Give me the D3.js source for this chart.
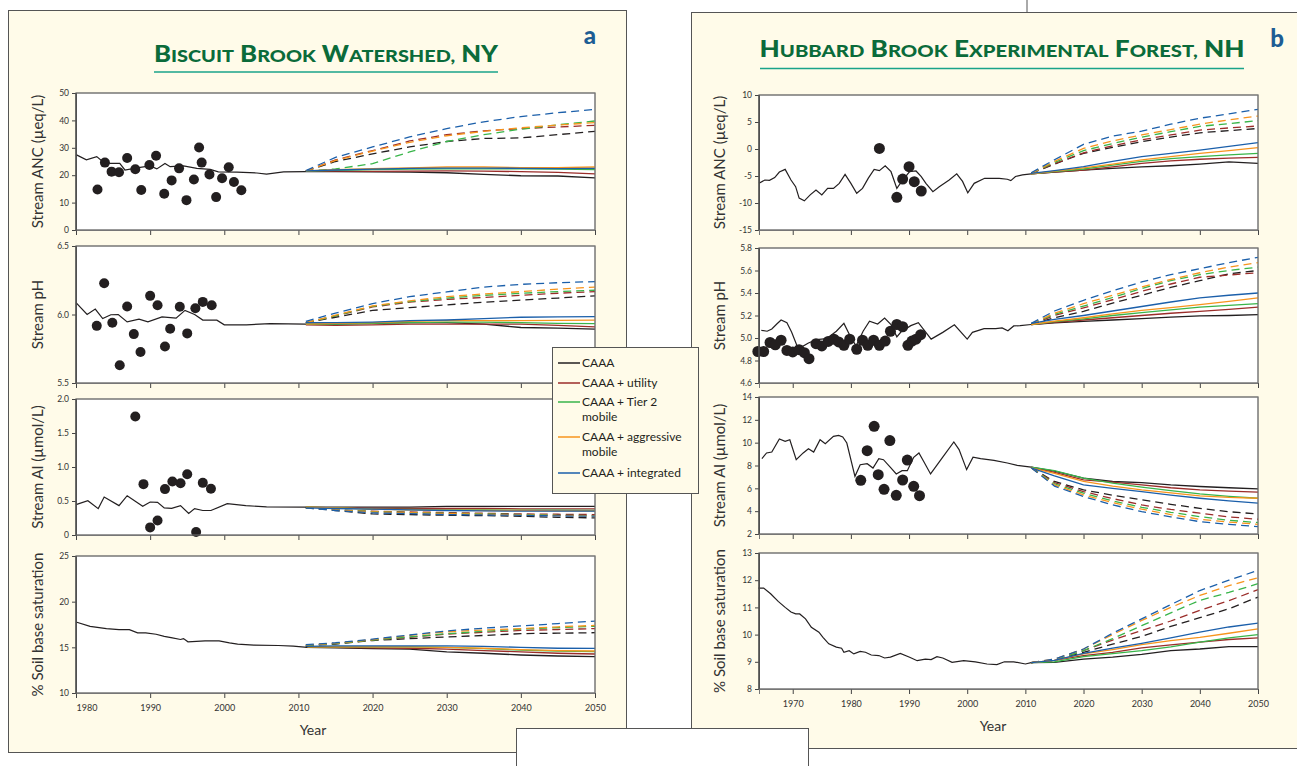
<!DOCTYPE html>
<html>
<head>
<meta charset="utf-8">
<script src="https://cdn.jsdelivr.net/npm/d3@7"></script>
<style>
  body { margin: 0; background: #fff; }
  svg { display: block; font-family: Lato, "Open Sans", sans-serif; }
</style>
</head>
<body>
<script>
// ---- data ----
var scenarios = ["CAAA", "CAAA + utility", "CAAA + Tier 2 mobile", "CAAA + aggressive mobile", "CAAA + integrated"];
var scenarioColors = ["#231f20", "#9b2d2a", "#39b54a", "#f7941d", "#1b5faa"];
var projYears = [2011, 2015, 2020, 2025, 2030, 2035, 2040, 2045, 2050];

var bbYearTicks = [1980, 1990, 2000, 2010, 2020, 2030, 2040, 2050];
var hbYearTicks = [1970, 1980, 1990, 2000, 2010, 2020, 2030, 2040, 2050];

// Biscuit Brook: ANC
var bbAncTicks = [0, 10, 20, 30, 40, 50];
var bbAncObs = [[1982.9,14.8],[1983.9,24.6],[1984.8,21.3],[1985.8,21.1],[1986.9,26.3],[1988.0,22.2],[1988.8,14.6],[1989.9,23.7],[1990.8,27.1],[1991.9,13.2],[1992.9,18.1],[1993.9,22.5],[1994.9,10.9],[1995.9,18.4],[1996.6,30.1],[1996.95,24.6],[1998.0,20.3],[1998.9,12.0],[1999.7,18.9],[2000.6,22.9],[2001.3,17.5],[2002.3,14.5]];
var bbAncHist = [[1980,27.5],[1981.4,25.6],[1982.8,26.8],[1983.5,25.2],[1984.6,24.3],[1985.9,24.3],[1986.6,21.9],[1988.2,22.7],[1990,23.4],[1990.9,22.3],[1992,24.3],[1992.7,23.1],[1994.5,23.4],[1996.3,22.5],[1998.1,22.1],[1999.2,21.2],[2001.7,21.1],[2004.4,20.8],[2005.7,20.4],[2008,21.2],[2011,21.3]];
var bbAncSolid = [
  [21.3, 21.3, 21.2, 21.1, 20.9, 20.3, 19.8, 19.7, 19.0],
  [21.4, 21.5, 21.4, 21.5, 21.6, 21.5, 21.3, 21.0, 20.5],
  [21.5, 21.8, 22.0, 22.2, 22.3, 22.3, 22.3, 22.2, 22.0],
  [21.6, 22.0, 22.4, 22.7, 23.0, 23.0, 22.8, 22.8, 23.0],
  [21.6, 21.9, 22.2, 22.5, 22.6, 22.6, 22.5, 22.4, 22.5]];
var bbAncDashed = [
  [21.5, 25.0, 27.8, 30.3, 32.3, 33.4, 33.6, 34.8, 36.0],
  [21.5, 25.6, 29.0, 32.5, 34.8, 36.2, 37.0, 37.6, 38.2],
  [21.5, 22.3, 24.2, 28.5, 32.3, 34.8, 36.8, 38.4, 39.8],
  [21.5, 25.4, 28.8, 32.0, 34.4, 36.0, 37.3, 38.3, 39.2],
  [21.7, 26.5, 30.3, 34.0, 37.0, 39.5, 41.4, 42.8, 44.0]];

// Biscuit Brook: pH
var bbPhTicks = [5.5, 6.0, 6.5];
var bbPhObs = [[1982.8,5.917],[1983.8,6.228],[1984.9,5.94],[1985.9,5.63],[1986.9,6.058],[1987.8,5.857],[1988.7,5.726],[1990.0,6.136],[1991.0,6.068],[1992.0,5.767],[1992.7,5.896],[1994.0,6.056],[1995.0,5.862],[1996.1,6.046],[1997.1,6.092],[1998.3,6.068]];
var bbPhHist = [[1980,6.087],[1981.5,6.0],[1982.6,6.04],[1983.6,5.97],[1984.7,5.998],[1985.7,6.0],[1986.9,5.946],[1988.5,5.966],[1989.7,5.946],[1991.6,5.983],[1993.5,5.973],[1994.7,6.03],[1996.0,6.0],[1997.1,5.959],[1999.0,5.959],[2000,5.925],[2003,5.925],[2006.2,5.934],[2011,5.93]];
var bbPhSolid = [
  [5.93, 5.93, 5.935, 5.94, 5.94, 5.93, 5.905, 5.90, 5.893],
  [5.925, 5.92, 5.925, 5.93, 5.93, 5.93, 5.93, 5.92, 5.91],
  [5.93, 5.93, 5.935, 5.94, 5.945, 5.945, 5.94, 5.935, 5.934],
  [5.93, 5.935, 5.94, 5.95, 5.955, 5.955, 5.955, 5.957, 5.959],
  [5.94, 5.94, 5.945, 5.955, 5.96, 5.97, 5.98, 5.983, 5.985]];
var bbPhDashed = [
  [5.94, 5.98, 6.03, 6.05, 6.07, 6.09, 6.105, 6.12, 6.136],
  [5.94, 5.99, 6.055, 6.09, 6.11, 6.125, 6.14, 6.155, 6.167],
  [5.94, 5.99, 6.06, 6.095, 6.12, 6.14, 6.155, 6.167, 6.177],
  [5.94, 5.995, 6.063, 6.1, 6.13, 6.15, 6.167, 6.185, 6.20],
  [5.95, 6.01, 6.08, 6.13, 6.165, 6.2, 6.22, 6.232, 6.24]];

// Biscuit Brook: Al
var bbAlTicks = [0, 0.5, 1.0, 1.5, 2.0];
var bbAlObs = [[1988.0,1.743],[1989.1,0.748],[1990.0,0.112],[1991.0,0.214],[1992.0,0.675],[1993.0,0.786],[1994.1,0.762],[1995.0,0.893],[1996.2,0.044],[1997.1,0.767],[1998.2,0.68]];
var bbAlHist = [[1980,0.447],[1981.6,0.505],[1983,0.388],[1983.8,0.558],[1985.8,0.432],[1986.9,0.578],[1989.0,0.422],[1990,0.485],[1991,0.48],[1991.9,0.398],[1992.9,0.393],[1994.1,0.432],[1995.2,0.316],[1996,0.388],[1997.1,0.36],[1998.2,0.36],[2000.4,0.461],[2002.9,0.432],[2005.7,0.413],[2011,0.41]];
var bbAlSolid = [
  [0.41, 0.41, 0.41, 0.41, 0.42, 0.42, 0.42, 0.42, 0.42],
  [0.41, 0.40, 0.39, 0.39, 0.39, 0.39, 0.385, 0.385, 0.383],
  [0.41, 0.40, 0.38, 0.375, 0.37, 0.37, 0.365, 0.365, 0.36],
  [0.41, 0.40, 0.38, 0.37, 0.365, 0.36, 0.36, 0.355, 0.355],
  [0.40, 0.39, 0.38, 0.37, 0.36, 0.355, 0.35, 0.35, 0.35]];
var bbAlDashed = [
  [0.40, 0.36, 0.31, 0.30, 0.29, 0.285, 0.275, 0.26, 0.252],
  [0.40, 0.37, 0.35, 0.34, 0.33, 0.32, 0.31, 0.305, 0.30],
  [0.40, 0.37, 0.345, 0.33, 0.32, 0.31, 0.30, 0.29, 0.285],
  [0.40, 0.37, 0.34, 0.33, 0.315, 0.305, 0.295, 0.285, 0.28],
  [0.40, 0.36, 0.325, 0.315, 0.30, 0.295, 0.29, 0.28, 0.277]];

// Biscuit Brook: soil base saturation
var bbSoilTicks = [10, 15, 20, 25];
var bbSoilHist = [[1980,17.77],[1981.9,17.3],[1984.1,17.05],[1985.8,16.94],[1987.2,16.94],[1988.3,16.58],[1989.4,16.58],[1990.8,16.43],[1991.9,16.2],[1993,16.04],[1994.1,15.86],[1994.5,15.96],[1995.1,15.6],[1997.4,15.71],[1999.3,15.71],[2000.7,15.49],[2001.8,15.35],[2004,15.24],[2007.3,15.2],[2009.3,15.13],[2011.2,14.99]];
var bbSoilSolid = [
  [15.0, 14.95, 14.85, 14.8, 14.5, 14.35, 14.16, 14.05, 13.98],
  [15.0, 15.0, 14.95, 14.9, 14.8, 14.65, 14.5, 14.35, 14.27],
  [15.05, 15.05, 15.05, 15.05, 15.0, 14.85, 14.7, 14.6, 14.52],
  [15.05, 15.05, 15.05, 15.05, 15.0, 14.9, 14.75, 14.65, 14.6],
  [15.1, 15.15, 15.15, 15.15, 15.17, 15.1, 15.0, 14.9, 14.88]];
var bbSoilDashed = [
  [15.2, 15.35, 15.75, 15.95, 16.14, 16.3, 16.5, 16.55, 16.6],
  [15.2, 15.4, 15.8, 16.1, 16.45, 16.65, 16.85, 16.95, 17.05],
  [15.2, 15.4, 15.8, 16.15, 16.5, 16.75, 17.0, 17.15, 17.3],
  [15.25, 15.45, 15.85, 16.3, 16.7, 16.9, 17.05, 17.25, 17.4],
  [15.3, 15.5, 15.9, 16.35, 16.8, 17.1, 17.34, 17.6, 17.88]];

// Hubbard Brook: ANC
var hbAncTicks = [-15, -10, -5, 0, 5, 10];
var hbAncObs = [[1984.9,0.1],[1987.9,-8.95],[1988.9,-5.56],[1990.0,-3.27],[1990.9,-6.05],[1992.1,-7.78]];
var hbAncHist = [[1964.2,-6.36],[1965.2,-5.74],[1966,-5.8],[1966.9,-5.3],[1967.7,-4.26],[1968.7,-3.77],[1969.7,-5.74],[1970.5,-6.98],[1971.1,-9.1],[1972,-9.6],[1973,-8.5],[1974,-7.6],[1975,-8.5],[1976,-7.3],[1977,-7.3],[1978,-6.36],[1979,-4.7],[1980,-6.36],[1981,-8.2],[1982,-7.3],[1983,-5.4],[1984,-3.77],[1984.9,-4.0],[1985.9,-3.1],[1986.9,-4.2],[1987.9,-7.3],[1988.9,-5.74],[1990.1,-4.2],[1991.2,-4.07],[1992.1,-5.1],[1992.9,-6.36],[1994.1,-7.9],[1995.2,-7.0],[1996.9,-5.74],[1998.2,-4.6],[1999.2,-6.0],[2000.1,-8.1],[2001.2,-6.36],[2003,-5.43],[2005.5,-5.43],[2006.9,-5.6],[2007.5,-5.86],[2008.3,-5.1],[2009.5,-4.8],[2011,-4.6]];
var hbAncSolid = [
  [-4.6, -4.3, -3.9, -3.6, -3.3, -3.1, -2.8, -2.4, -2.65],
  [-4.6, -4.3, -3.9, -3.3, -2.65, -2.2, -1.9, -1.7, -1.54],
  [-4.6, -4.2, -3.7, -3.0, -2.3, -1.8, -1.4, -1.1, -0.8],
  [-4.6, -4.1, -3.5, -2.8, -2.0, -1.4, -0.8, -0.3, 0.25],
  [-4.5, -4.0, -3.27, -2.3, -1.42, -0.8, -0.2, 0.5, 1.17]];
var hbAncDashed = [
  [-4.5, -2.8, -0.8, 0.3, 1.36, 2.2, 3.0, 3.4, 3.8],
  [-4.5, -2.7, -0.7, 0.6, 1.7, 2.6, 3.5, 3.9, 4.26],
  [-4.5, -2.5, -0.3, 1.0, 2.2, 3.2, 4.2, 4.7, 5.25],
  [-4.5, -2.3, 0.1, 1.5, 2.6, 3.6, 4.6, 5.4, 6.1],
  [-4.4, -2.0, 0.86, 2.4, 3.3, 4.6, 5.7, 6.5, 7.35]];

// Hubbard Brook: pH
var hbPhTicks = [4.6, 4.8, 5.0, 5.2, 5.4, 5.6, 5.8];
var hbPhObs = [[1964.0,4.88],[1965,4.88],[1966.1,4.96],[1967,4.94],[1968,4.98],[1969,4.89],[1970,4.876],[1971.1,4.896],[1972,4.87],[1972.8,4.816],[1974,4.95],[1975,4.93],[1976.1,4.97],[1977.1,4.99],[1977.9,4.965],[1978.8,4.935],[1979.8,4.99],[1981,4.9],[1982,4.98],[1982.9,4.935],[1983.9,4.98],[1984.9,4.935],[1985.9,4.973],[1986.8,5.06],[1987.9,5.12],[1988.9,5.1],[1989.8,4.935],[1990.5,4.973],[1991.2,4.99],[1992,5.03]];
var hbPhHist = [[1964.6,5.068],[1965.6,5.06],[1966.4,5.08],[1967.3,5.127],[1968,5.16],[1969,5.136],[1969.8,5.053],[1970.7,4.935],[1971.5,4.92],[1972.7,4.956],[1974.1,4.985],[1975.8,4.994],[1977.5,5.06],[1978.8,5.13],[1980.1,4.994],[1980.9,4.93],[1982.1,5.06],[1983.2,5.15],[1984.6,5.124],[1985.8,5.178],[1986.9,5.12],[1987.9,5.01],[1988.6,5.053],[1990.3,5.11],[1991.6,5.136],[1993.8,4.99],[1995.8,5.05],[1997.8,5.117],[2000,4.99],[2000.9,5.05],[2002.9,5.083],[2004.9,5.083],[2006,5.09],[2007,5.065],[2008,5.107],[2009.1,5.11],[2011,5.12]];
var hbPhSolid = [
  [5.12, 5.135, 5.148, 5.16, 5.172, 5.185, 5.196, 5.2, 5.207],
  [5.12, 5.14, 5.16, 5.18, 5.2, 5.22, 5.237, 5.255, 5.275],
  [5.12, 5.145, 5.17, 5.2, 5.225, 5.25, 5.275, 5.29, 5.305],
  [5.12, 5.15, 5.18, 5.215, 5.246, 5.27, 5.296, 5.325, 5.356],
  [5.13, 5.165, 5.2, 5.24, 5.28, 5.32, 5.356, 5.38, 5.40]];
var hbPhDashed = [
  [5.12, 5.18, 5.237, 5.31, 5.38, 5.45, 5.51, 5.57, 5.60],
  [5.12, 5.2, 5.267, 5.34, 5.415, 5.48, 5.54, 5.56, 5.58],
  [5.125, 5.21, 5.284, 5.36, 5.44, 5.51, 5.563, 5.6, 5.63],
  [5.125, 5.22, 5.305, 5.38, 5.453, 5.52, 5.58, 5.63, 5.67],
  [5.13, 5.24, 5.335, 5.42, 5.498, 5.563, 5.616, 5.67, 5.717]];

// Hubbard Brook: Al
var hbAlTicks = [2, 4, 6, 8, 10, 12, 14];
var hbAlObs = [[1984.0,11.43],[1982.8,9.3],[1986.7,10.18],[1989.7,8.48],[1981.7,6.7],[1984.7,7.2],[1985.7,5.91],[1987.8,5.39],[1988.9,6.73],[1990.8,6.18],[1991.8,5.36]];
var hbAlHist = [[1964.7,8.6],[1965.5,9.1],[1966.4,9.18],[1967.7,10.32],[1968.7,10.12],[1969.5,10.26],[1970.6,8.51],[1971.8,9.1],[1972.7,9.47],[1973.6,9.18],[1974.7,10.26],[1975.6,9.91],[1977,10.55],[1977.9,10.64],[1978.6,10.5],[1979.3,9.97],[1980.7,7.05],[1981.6,8.07],[1982.8,8.16],[1983.8,7.78],[1984.8,8.6],[1985.6,8.51],[1986.8,7.84],[1987.8,7.26],[1988.8,7.55],[1989.7,7.55],[1990.8,8.72],[1991.7,9.1],[1992.5,8.37],[1993.7,7.26],[1995.7,8.66],[1997.7,10.06],[1998.6,9.39],[1999.9,7.64],[2001,8.72],[2002.3,8.6],[2004.6,8.45],[2006.9,8.22],[2008.6,8.01],[2011,7.85]];
var hbAlSolid = [
  [7.85, 7.5, 6.9, 6.6, 6.5, 6.3, 6.16, 6.05, 5.95],
  [7.85, 7.4, 6.74, 6.55, 6.3, 6.05, 5.86, 5.75, 5.66],
  [7.85, 7.55, 6.9, 6.45, 6.1, 5.8, 5.51, 5.3, 5.13],
  [7.8, 7.3, 6.6, 6.2, 5.86, 5.6, 5.34, 5.2, 5.13],
  [7.8, 7.1, 6.3, 6.0, 5.72, 5.4, 5.13, 4.9, 4.7]];
var hbAlDashed = [
  [7.8, 6.6, 5.86, 5.4, 4.99, 4.6, 4.25, 3.95, 3.76],
  [7.8, 6.5, 5.72, 5.1, 4.55, 4.15, 3.82, 3.5, 3.29],
  [7.8, 6.4, 5.57, 4.9, 4.34, 3.9, 3.52, 3.2, 3.0],
  [7.8, 6.3, 5.42, 4.75, 4.17, 3.7, 3.29, 3.05, 2.85],
  [7.8, 6.2, 5.28, 4.55, 3.96, 3.5, 3.08, 2.85, 2.64]];

// Hubbard Brook: soil base saturation
var hbSoilTicks = [8, 9, 10, 11, 12, 13];
var hbSoilHist = [[1964.1,11.71],[1965,11.71],[1966.2,11.5],[1967.5,11.22],[1968.7,11.0],[1969.7,10.83],[1970.5,10.76],[1971.2,10.76],[1972.2,10.58],[1973.2,10.27],[1974.5,10.09],[1975.2,9.9],[1976.2,9.66],[1977.5,9.54],[1978.4,9.5],[1978.8,9.35],[1979.7,9.41],[1980.5,9.29],[1981.6,9.38],[1982.5,9.35],[1983.5,9.25],[1984.8,9.23],[1985.8,9.14],[1986.8,9.17],[1988.5,9.31],[1990.1,9.17],[1991.4,9.04],[1992.8,9.1],[1993.8,9.08],[1994.8,9.19],[1995.8,9.14],[1997.4,8.98],[1999.4,9.04],[2001.4,9.0],[2003.4,8.92],[2005.1,8.9],[2006.4,9.0],[2008,9.0],[2010,8.92],[2011,8.97]];
var hbSoilSolid = [
  [8.97, 8.98, 9.1, 9.17, 9.27, 9.41, 9.47, 9.56, 9.56],
  [8.97, 9.05, 9.23, 9.35, 9.51, 9.62, 9.72, 9.82, 9.88],
  [8.97, 9.0, 9.19, 9.3, 9.41, 9.55, 9.72, 9.88, 10.0],
  [8.97, 9.05, 9.29, 9.45, 9.63, 9.78, 9.9, 10.05, 10.21],
  [8.97, 9.05, 9.31, 9.5, 9.68, 9.88, 10.09, 10.28, 10.42]];
var hbSoilDashed = [
  [8.97, 9.05, 9.35, 9.65, 9.93, 10.3, 10.62, 10.95, 11.38],
  [8.97, 9.05, 9.41, 9.8, 10.15, 10.5, 10.89, 11.25, 11.65],
  [8.97, 9.05, 9.41, 9.85, 10.33, 10.8, 11.26, 11.55, 11.87],
  [8.97, 9.1, 9.47, 10.0, 10.52, 11.0, 11.44, 11.8, 12.09],
  [8.97, 9.1, 9.47, 10.05, 10.58, 11.1, 11.62, 12.0, 12.36]];

window.onload = function(){
    var w = 1297, h = 766;
    var svg = d3.select("body").append("svg")
        .attr("width", w)
        .attr("height", h);

    var cream = "#fffbe9";

    // panel backgrounds
    svg.append("line").attr("x1", 1027).attr("x2", 1027).attr("y1", 0).attr("y2", 12)
        .style("stroke", "#555");
    svg.append("rect").attr("x", 8.5).attr("y", 10.5).attr("width", 618).attr("height", 742)
        .style("fill", cream).style("stroke", "#555");
    svg.append("rect").attr("x", 691.5).attr("y", 12.5).attr("width", 620).attr("height", 736)
        .style("fill", cream).style("stroke", "#555");

    // titles with small caps built from tspans
    function title(x, y, words, len) {
        var t = svg.append("text").attr("x", x).attr("y", y)
            .attr("text-anchor", "middle")
            .attr("textLength", len).attr("lengthAdjust", "spacingAndGlyphs")
            .style("fill", "#0b6b3a").style("font-weight", 900);
        words.forEach(function(wd, i){
            var allBig = wd.length <= 3 && wd === wd.toUpperCase();
            if (allBig) {
                t.append("tspan").style("font-size", "22px").text((i ? " " : "") + wd);
            } else {
                t.append("tspan").style("font-size", "22px").text((i ? " " : "") + wd[0].toUpperCase());
                t.append("tspan").style("font-size", "17px").text(wd.slice(1).toUpperCase());
            }
        });
    }
    title(326, 62, ["Biscuit", "Brook", "Watershed,", "NY"], 344);
    title(1002, 57, ["Hubbard", "Brook", "Experimental", "Forest,", "NH"], 485);
    svg.append("line").attr("x1", 154).attr("x2", 498).attr("y1", 72).attr("y2", 72)
        .style("stroke", "#1aa38a").style("stroke-width", 1.5);
    svg.append("line").attr("x1", 760).attr("x2", 1244).attr("y1", 68.5).attr("y2", 68.5)
        .style("stroke", "#1aa38a").style("stroke-width", 1.5);
    svg.append("text").attr("x", 590).attr("y", 44).attr("text-anchor", "middle")
        .style("font-size", "24px").style("font-weight", 900).style("fill", "#1d5d94").text("a");
    svg.append("text").attr("x", 1277).attr("y", 47).attr("text-anchor", "middle")
        .style("font-size", "24px").style("font-weight", 900).style("fill", "#1d5d94").text("b");

    var fmt1 = d3.format(".1f");

    function plot(p) {
        var x = d3.scaleLinear().domain(p.xDomain).range([p.x0, p.x1]);
        var y = d3.scaleLinear().domain(p.yDomain).range([p.y1, p.y0]);
        var g = svg.append("g");

        g.append("rect").attr("x", p.x0).attr("y", p.y0)
            .attr("width", p.x1 - p.x0).attr("height", p.y1 - p.y0)
            .style("fill", "#fff").style("stroke", "#777").style("stroke-width", 1);

        // y axis
        var yAxis = d3.axisLeft(y).tickValues(p.yTicks).tickSize(4).tickPadding(3)
            .tickFormat(p.yFmt || function(d){ return d; });
        var ya = g.append("g").attr("transform", "translate(" + p.x0 + ",0)").call(yAxis);
        ya.select(".domain").style("stroke", "#444");
        ya.selectAll("line").style("stroke", "#444");
        ya.selectAll("text").style("font-size", "8.5px").style("fill", "#333")
            .style("font-family", "Lato, sans-serif");

        // x axis ticks on each plot
        var xAxis = d3.axisBottom(x).tickValues(p.xTicks).tickSize(5).tickPadding(7)
            .tickFormat(p.showX ? function(d){ return d; } : "");
        var xa = g.append("g").attr("transform", "translate(0," + p.y1 + ")").call(xAxis);
        xa.select(".domain").style("stroke", "#777");
        xa.selectAll("line").style("stroke", "#444");
        xa.selectAll("text").style("font-size", "9px").style("fill", "#333")
            .style("font-family", "Lato, sans-serif");
        if (p.firstStart) {
            xa.selectAll("text").filter(function(d, i){ return i === 0; })
                .attr("text-anchor", "start");
        }

        var line = d3.line().x(function(d){ return x(d[0]); }).y(function(d){ return y(d[1]); });

        // projections: dashed drawn first, then solid
        [p.dashed, p.solid].forEach(function(set, k){
            set.forEach(function(vals, i){
                var pts = projYears.map(function(yr, j){ return [yr, vals[j]]; });
                g.append("path").datum(pts).attr("d", line)
                    .style("fill", "none").style("stroke", scenarioColors[i])
                    .style("stroke-width", 1.3)
                    .style("stroke-dasharray", k === 0 ? "8,5" : null);
            });
        });

        g.append("path").datum(p.hist).attr("d", line)
            .style("fill", "none").style("stroke", "#231f20").style("stroke-width", 1.2);

        if (p.obs) {
            g.selectAll(".dot").data(p.obs).enter().append("circle")
                .attr("cx", function(d){ return x(d[0]); })
                .attr("cy", function(d){ return y(d[1]); })
                .attr("r", p.r || 5)
                .style("fill", "#231f20");
        }

        // redraw top/right frame over lines
        g.append("rect").attr("x", p.x0).attr("y", p.y0)
            .attr("width", p.x1 - p.x0).attr("height", p.y1 - p.y0)
            .style("fill", "none").style("stroke", "#777").style("stroke-width", 1);
        g.append("line").attr("x1", p.x0).attr("x2", p.x0).attr("y1", p.y0).attr("y2", p.y1)
            .style("stroke", "#444");

        g.append("text")
            .attr("transform", "translate(" + p.labelX + "," + ((p.y0 + p.y1) / 2) + ") rotate(-90)")
            .attr("text-anchor", "middle")
            .style("font-size", "15px").style("fill", "#333")
            .text(p.label);
    }

    var bbX = [1980, 2050], hbX = [1964.2, 2050];

    // Biscuit Brook panels
    plot({x0: 76, x1: 595, y0: 93, y1: 230, xDomain: bbX, yDomain: [0, 50], yTicks: bbAncTicks,
          xTicks: bbYearTicks, label: "Stream ANC  (\u00b5eq/L)", labelX: 43,
          obs: bbAncObs, hist: bbAncHist, solid: bbAncSolid, dashed: bbAncDashed});
    plot({x0: 76, x1: 595, y0: 246, y1: 383, xDomain: bbX, yDomain: [5.5, 6.5], yTicks: bbPhTicks, yFmt: fmt1,
          xTicks: bbYearTicks, label: "Stream pH", labelX: 43,
          obs: bbPhObs, hist: bbPhHist, solid: bbPhSolid, dashed: bbPhDashed});
    plot({x0: 76, x1: 595, y0: 399, y1: 535, xDomain: bbX, yDomain: [0, 2], yTicks: bbAlTicks,
          yFmt: function(d){ return d === 0 ? "0" : fmt1(d); },
          xTicks: bbYearTicks, label: "Stream Al (\u00b5mol/L)", labelX: 43,
          obs: bbAlObs, hist: bbAlHist, solid: bbAlSolid, dashed: bbAlDashed});
    plot({x0: 76, x1: 595, y0: 556, y1: 693, xDomain: bbX, yDomain: [10, 25], yTicks: bbSoilTicks,
          xTicks: bbYearTicks, label: "% Soil base saturation", labelX: 43, showX: true, firstStart: true,
          hist: bbSoilHist, solid: bbSoilSolid, dashed: bbSoilDashed});

    // Hubbard Brook panels
    plot({x0: 759, x1: 1258, y0: 95, y1: 230, xDomain: hbX, yDomain: [-15, 10], yTicks: hbAncTicks,
          xTicks: hbYearTicks, label: "Stream ANC  (\u00b5eq/L)", labelX: 725, r: 5.5,
          obs: hbAncObs, hist: hbAncHist, solid: hbAncSolid, dashed: hbAncDashed});
    plot({x0: 759, x1: 1258, y0: 248, y1: 383, xDomain: hbX, yDomain: [4.6, 5.8], yTicks: hbPhTicks, yFmt: fmt1,
          xTicks: hbYearTicks, label: "Stream pH", labelX: 725, r: 5.5,
          obs: hbPhObs, hist: hbPhHist, solid: hbPhSolid, dashed: hbPhDashed});
    plot({x0: 759, x1: 1258, y0: 397, y1: 534, xDomain: hbX, yDomain: [2, 14], yTicks: hbAlTicks,
          xTicks: hbYearTicks, label: "Stream Al (\u00b5mol/L)", labelX: 725, r: 5.5,
          obs: hbAlObs, hist: hbAlHist, solid: hbAlSolid, dashed: hbAlDashed});
    plot({x0: 759, x1: 1258, y0: 553, y1: 689, xDomain: hbX, yDomain: [8, 13], yTicks: hbSoilTicks,
          xTicks: hbYearTicks, label: "% Soil base saturation", labelX: 725, showX: true,
          hist: hbSoilHist, solid: hbSoilSolid, dashed: hbSoilDashed});

    svg.append("text").attr("x", 313).attr("y", 735).attr("text-anchor", "middle")
        .style("font-size", "14px").style("fill", "#333").text("Year");
    svg.append("text").attr("x", 993).attr("y", 731).attr("text-anchor", "middle")
        .style("font-size", "14px").style("fill", "#333").text("Year");

    // legend
    var lg = svg.append("g");
    lg.append("rect").attr("x", 552.5).attr("y", 347.5).attr("width", 146).attr("height", 146)
        .style("fill", cream).style("stroke", "#555");
    var legendRows = [363, 383, 402, 437, 473];
    scenarios.forEach(function(s, i){
        var yy = legendRows[i];
        lg.append("line").attr("x1", 558).attr("x2", 580).attr("y1", yy).attr("y2", yy)
            .style("stroke", scenarioColors[i]).style("stroke-width", 1.5);
        var parts = s.indexOf("mobile") > 0 ? [s.replace(" mobile", ""), "mobile"] : [s];
        parts.forEach(function(txt, j){
            lg.append("text").attr("x", 582).attr("y", yy + 4 + j * 15)
                .style("font-size", "12px").style("fill", "#231f20").text(txt);
        });
    });

    // small empty box at the bottom
    svg.append("rect").attr("x", 516.5).attr("y", 728.5).attr("width", 292).attr("height", 50)
        .style("fill", "#fff").style("stroke", "#555");
};
</script>
</body>
</html>
